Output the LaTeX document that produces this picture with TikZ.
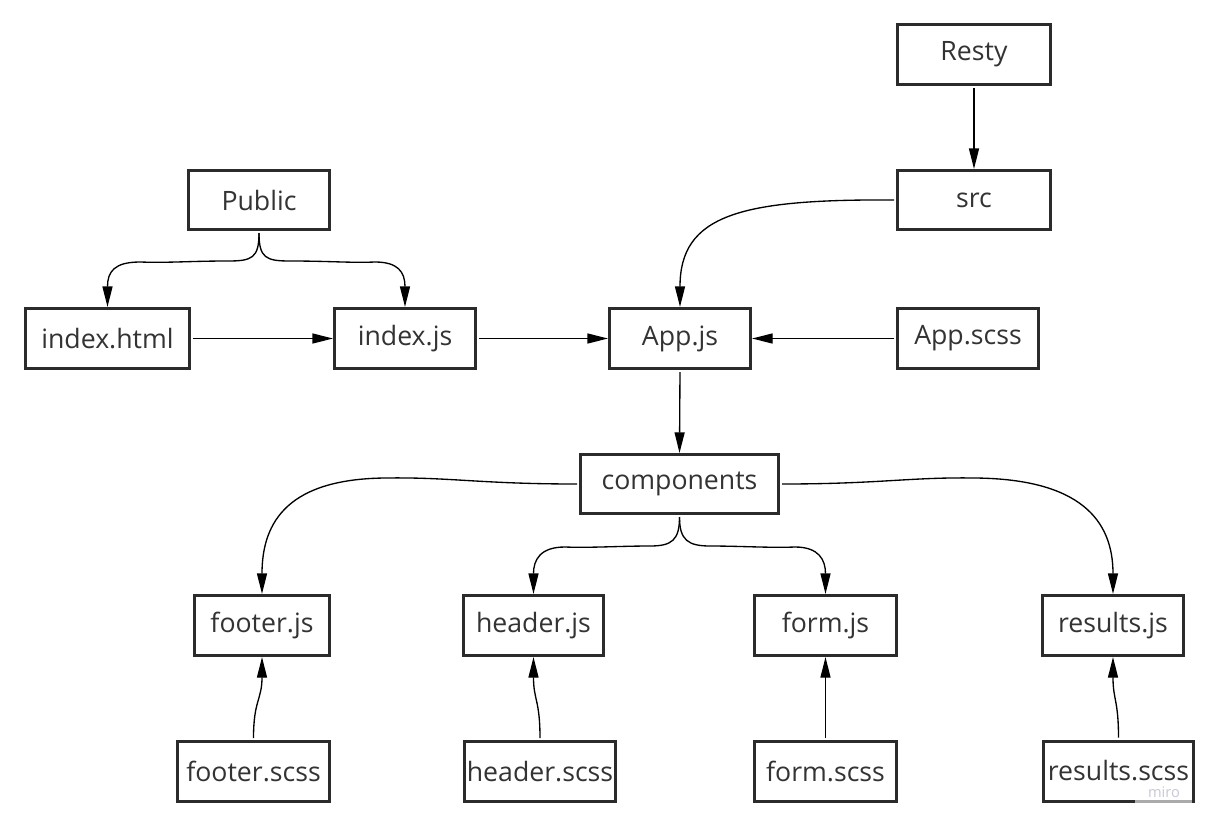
\documentclass[tikz,border=0pt]{standalone}
\usepackage{fontspec}
\setmainfont{Open Sans}
\usetikzlibrary{arrows.meta}
\definecolor{boxc}{HTML}{2B2B2B}
\definecolor{txtc}{HTML}{333333}
\definecolor{miroc}{HTML}{C6C8D4}
\begin{document}
\begin{tikzpicture}[x=0.75pt,y=-0.75pt,
  box/.style 2 args={draw=boxc, line width=2.25pt, fill=white, text=txtc,
    font=\fontsize{20}{24}\selectfont, inner sep=0pt,
    minimum width=#1*0.75pt, minimum height=#2*0.75pt},
  conn/.style={line width=1pt, draw=black, shorten <=1.5pt,
    -{Triangle[length=15.5pt,width=7.5pt]}}]
\useasboundingbox (0,0) rectangle (1211,825);
% nodes
\node[box={153}{60}] (resty) at (974,54.5) {Resty};
\node[box={153}{59}] (src) at (974,200) {src};
\node[box={141}{59}] (public) at (259,200) {Public};
\node[box={164}{60}] (indexhtml) at (107.5,338.5) {index.html};
\node[box={141}{60}] (indexjs) at (405,338.5) {index.js};
\node[box={141}{60}] (appjs) at (680,338.5) {App.js};
\node[box={141}{60}] (appscss) at (968,338.5) {App.scss};
\node[box={198}{59}] (comp) at (679.5,484) {components};
\node[box={135}{60}] (footerjs) at (262,625.5) {footer.js};
\node[box={140}{60}] (headerjs) at (533.5,625.5) {header.js};
\node[box={142}{60}] (formjs) at (825.5,625.5) {form.js};
\node[box={141}{60}] (resultsjs) at (1113,625.5) {results.js};
\node[box={152}{60}] (footerscss) at (253.5,771.5) {footer.scss};
\node[box={151}{60}] (headerscss) at (540,771.5) {header.scss};
\node[box={142}{60}] (formscss) at (825.5,771.5) {form.scss};
\node[box={150}{60}] (resultsscss) at (1118.5,771) {results.scss};
% straight connectors
\draw[conn] (resty.south) -- (src.north);
\draw[conn] (indexhtml.east) -- (indexjs.west);
\draw[conn] (indexjs.east) -- (appjs.west);
\draw[conn] (appscss.west) -- (appjs.east);
\draw[conn] (appjs.south) -- (comp.north);
\draw[conn] (formscss.north) -- (formjs.south);
% curved connectors
\draw[conn] (src.west) .. controls (740,199) and (680,215) .. (appjs.north);
\draw[conn] (public.south) .. controls (259,258) and (252,261) .. (228,261)
  .. controls (190,261) and (170,263) .. (140,262)
  .. controls (114,262) and (107.5,272) .. (indexhtml.north);
\draw[conn] (public.south) .. controls (259,258) and (266,261) .. (290,261)
  .. controls (330,261) and (350,263) .. (375,262)
  .. controls (398,262) and (405,272) .. (indexjs.north);
\draw[conn] (comp.south) .. controls (679.5,540) and (672,546) .. (650,546)
  .. controls (620,546) and (590,548) .. (565,547)
  .. controls (540,547) and (533.5,560) .. (headerjs.north);
\draw[conn] (comp.south) .. controls (679.5,540) and (688,546) .. (710,546)
  .. controls (740,546) and (770,548) .. (795,547)
  .. controls (819,547) and (825.5,560) .. (formjs.north);
\draw[conn] (comp.west) .. controls (480,484) and (450,477) .. (385,478)
  .. controls (290,479) and (262,520) .. (footerjs.north);
\draw[conn] (comp.east) .. controls (880,484) and (910,477) .. (975,478)
  .. controls (1080,479) and (1113,520) .. (resultsjs.north);
\draw[conn] (footerscss.north) .. controls (253.5,700) and (262,700) .. (footerjs.south);
\draw[conn] (headerscss.north) .. controls (540,700) and (533.5,700) .. (headerjs.south);
\draw[conn] (resultsscss.north) .. controls (1118.5,700) and (1113,700) .. (resultsjs.south);
% watermark
\fill[white, opacity=0.6] (1135,783) rectangle (1192,806);
\node[text=miroc, font=\fontsize{11}{13}\selectfont, inner sep=0pt] (miro) at (1164,792) {miro};
\end{tikzpicture}
\end{document}
